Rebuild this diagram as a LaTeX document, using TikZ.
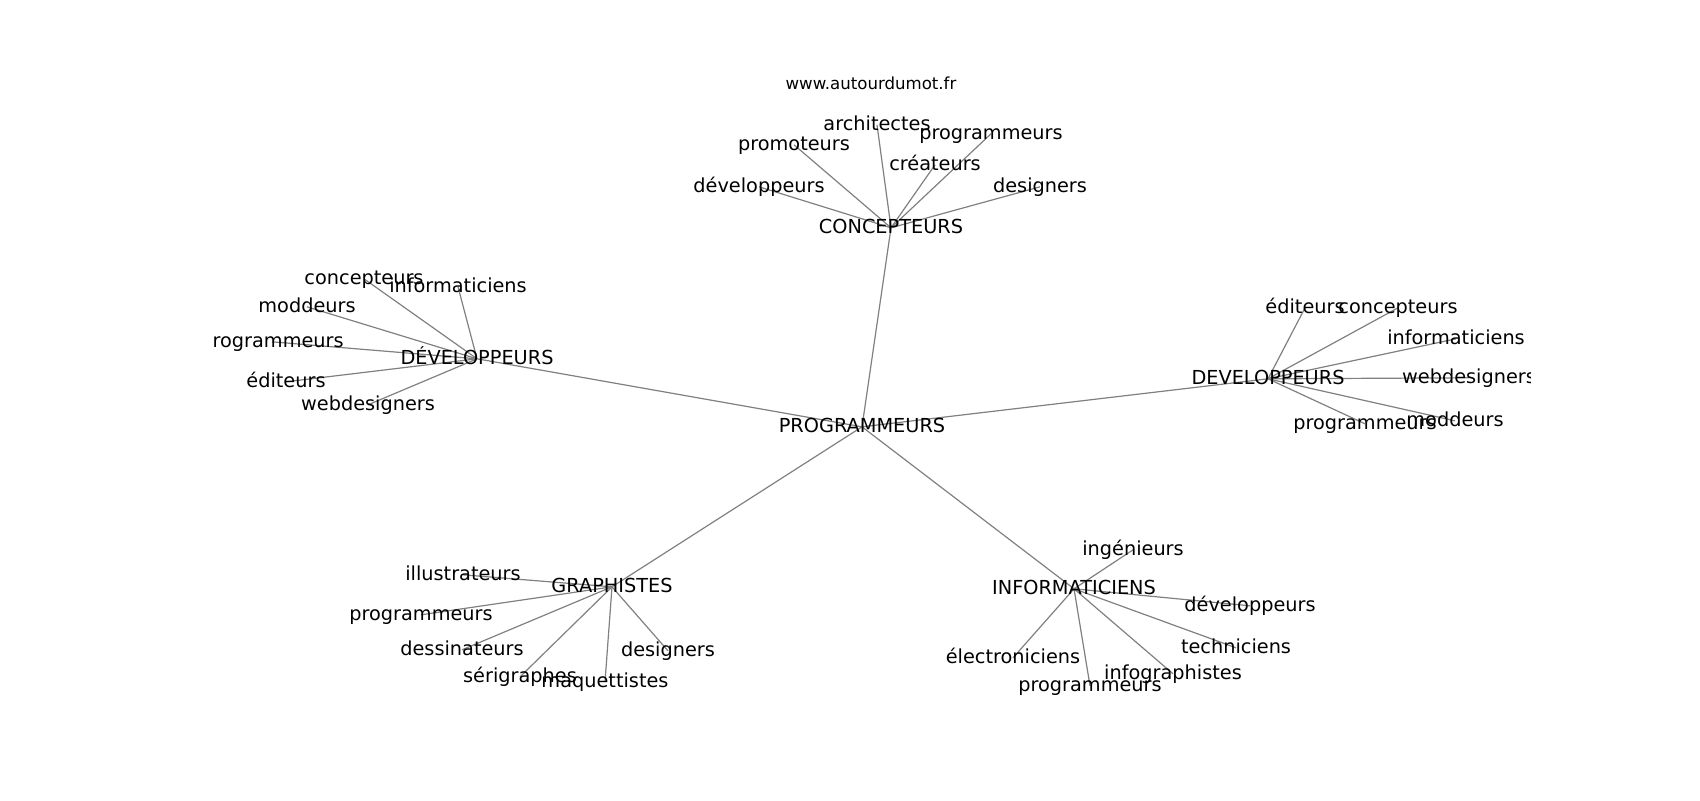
\documentclass[tikz,border=0pt]{standalone}
\usepackage{fontspec}
\setmainfont{DejaVu Sans}
\usetikzlibrary{backgrounds}

\begin{document}
\begin{tikzpicture}[x=0.5pt,y=-0.5pt]
            \tikzset{
                mot/.style={inner sep=0pt,text height=7.3pt,text depth=2pt,yshift=-0.9pt,
                    font=\fontsize{9.65}{11}\selectfont},
                lien/.style={draw=gray,line width=0.6pt},}
            \useasboundingbox (0,0) rectangle (1700,800);
            \node[inner sep=0pt,font=\fontsize{8.3}{10}\selectfont] (titre) at (871,83) {www.autourdumot.fr};
            \begin{scope}
            \clip (212.5,0) rectangle (1530,800);
            % mots centraux
            \foreach \n/\x/\y/\t in {P/862/425/PROGRAMMEURS, C/891/226/CONCEPTEURS,
                    D/477/357/DÉVELOPPEURS, E/1268/377/DEVELOPPEURS,
                    G/612/585/GRAPHISTES, I/1074/587/INFORMATICIENS}
                \node[mot] (\n) at (\x,\y) {\t};
            % mots voisins
            \foreach \n/\x/\y/\t in {c1/759/185/développeurs, c2/794/143/promoteurs,
                    c3/877/123/architectes, c4/991/132/programmeurs,
                    c5/935/163/créateurs, c6/1040/185/designers,
                    d1/364/277/concepteurs, d2/458/285/informaticiens,
                    d3/307/305/moddeurs, d4/272/340/programmeurs,
                    d5/286/380/éditeurs, d6/368/403/webdesigners,
                    e1/1305/306/éditeurs, e2/1398/306/concepteurs,
                    e3/1456/337/informaticiens, e4/1469/376/webdesigners,
                    e5/1365/422/programmeurs, e6/1455/419/moddeurs,
                    g1/463/573/illustrateurs, g2/421/613/programmeurs,
                    g3/462/648/dessinateurs, g4/520/675/sérigraphes,
                    g5/605/680/maquettistes, g6/668/649/designers,
                    i1/1133/548/ingénieurs, i2/1250/604/développeurs,
                    i3/1236/646/techniciens, i4/1013/656/électroniciens,
                    i5/1090/684/programmeurs, i6/1173/672/infographistes}
                \node[mot] (\n) at (\x,\y) {\t};
            \end{scope}
            \begin{pgfonlayer}{background}
            \foreach \b in {C,D,E,G,I}
                \draw[lien] (P.center) -- (\b.center);
            % \foreach \a in {C,D,E,G,I} ...
            \foreach \k in {1,...,6}{
                \draw[lien] (C.center) -- (c\k.center);
                \draw[lien] (D.center) -- (d\k.center);
                \draw[lien] (E.center) -- (e\k.center);
                \draw[lien] (G.center) -- (g\k.center);
                \draw[lien] (I.center) -- (i\k.center);
            }
            \end{pgfonlayer}
        \end{tikzpicture}
\end{document}
